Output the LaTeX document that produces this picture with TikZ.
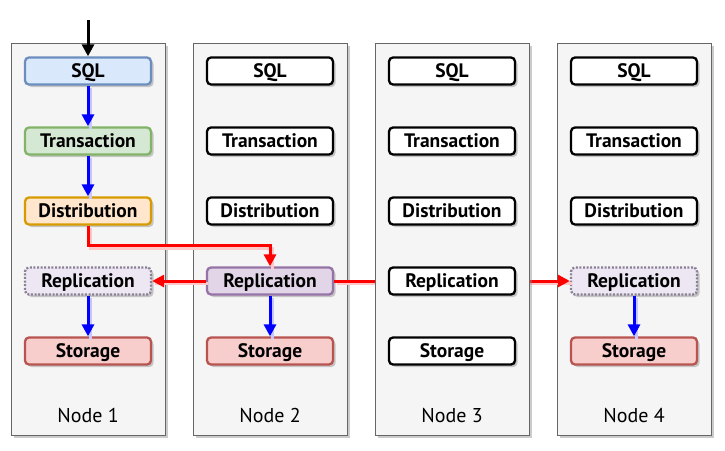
\documentclass[tikz,border=0pt]{standalone}
\usepackage{fontspec}
\setmainfont{PT Sans}
\usetikzlibrary{arrows.meta,shadows}
\definecolor{cfill}{HTML}{F5F5F5}
\definecolor{cline}{HTML}{666666}
\definecolor{sqlf}{HTML}{DAE8FC}\definecolor{sqld}{HTML}{6C8EBF}
\definecolor{trf}{HTML}{D5E8D4}\definecolor{trd}{HTML}{82B366}
\definecolor{dif}{HTML}{FFE6CC}\definecolor{did}{HTML}{D79B00}
\definecolor{ref}{HTML}{E1D5E7}\definecolor{red2}{HTML}{9673A6}
\definecolor{stf}{HTML}{F8CECC}\definecolor{std}{HTML}{B85450}
\definecolor{repl}{HTML}{EDE6F3}\definecolor{dotc}{HTML}{8A7F94}
\begin{document}
\begin{tikzpicture}[x=1pt,y=-1pt,
  shad/.style={drop shadow={shadow xshift=2.5pt,shadow yshift=-2.5pt,fill=black!45,opacity=0.45}},
  container/.style={draw=cline,fill=cfill,line width=1pt,minimum width=154pt,minimum height=392pt,inner sep=0,shad},
  blk/.style={rounded corners=4pt,line width=2.3pt,minimum width=126pt,minimum height=27pt,inner sep=0,
     text height=13.5pt,text depth=0pt,
     font=\bfseries\fontsize{19.5}{22}\selectfont,shad},
  plain/.style={blk,draw=black,fill=white},
  sqlb/.style={blk,draw=sqld,fill=sqlf},
  trb/.style={blk,draw=trd,fill=trf},
  dib/.style={blk,draw=did,fill=dif},
  reb/.style={blk,draw=red2,fill=ref},
  repdot/.style={blk,draw=dotc,fill=repl,dash pattern=on 2pt off 1.6pt,line width=2.3pt},
  stb/.style={blk,draw=std,fill=stf},
  lbl/.style={font=\fontsize{20}{24}\selectfont,inner sep=0,text height=14pt,text depth=0pt},
  flow/.style={draw=blue,line width=3pt,-{Triangle[length=12pt,width=12pt]},
     preaction={draw=blue!22,line width=3pt,-,transform canvas={shift={(2.5pt,-2.5pt)}}}},
  rflow/.style={draw=red,line width=3pt,-{Triangle[length=12pt,width=12pt]},
     preaction={draw=red!22,line width=3pt,-,transform canvas={shift={(2.5pt,-2.5pt)}}}},
  entry/.style={draw=black,line width=3pt,-{Triangle[length=12pt,width=12pt]}}
]
\useasboundingbox (0,0) rectangle (725,450);
% containers 1,2,4
\node[container] (c1) at (88,239) {};
\node[container] (c2) at (270,239) {};
\node[container] (c4) at (634,239) {};
% node 1
\node[sqlb] (sql1) at (88,71) {SQL};
\node[trb] (tr1) at (88,141) {Transaction};
\node[dib] (di1) at (88,211) {Distribution};
\node[repdot] (re1) at (88,281) {Replication};
\node[stb] (st1) at (88,351) {Storage};
\node[lbl] (n1) at (88,415) {Node 1};
% node 2
\node[plain] (sql2) at (270,71) {SQL};
\node[plain] (tr2) at (270,141) {Transaction};
\node[plain] (di2) at (270,211) {Distribution};
\node[reb] (re2) at (270,281) {Replication};
\node[stb] (st2) at (270,351) {Storage};
\node[lbl] (n2) at (270,415) {Node 2};
% node 4
\node[plain] (sql4) at (634,71) {SQL};
\node[plain] (tr4) at (634,141) {Transaction};
\node[plain] (di4) at (634,211) {Distribution};
\node[repdot] (re4) at (634,281) {Replication};
\node[stb] (st4) at (634,351) {Storage};
\node[lbl] (n4) at (634,415) {Node 4};
% connectors
\coordinate (in) at (88,20);
\draw[entry] (in) -- (sql1.north);
\draw[flow] (sql1.south) -- (tr1.north);
\draw[flow] (tr1.south) -- (di1.north);
\draw[flow] (re1.south) -- (st1.north);
\draw[flow] (re2.south) -- (st2.north);
\draw[flow] (re4.south) -- (st4.north);
\draw[rflow] (di1.south) -- ++(0,20) -| (re2.north);
\draw[rflow] (re2.west) -- (re1.east);
\draw[rflow] (re2.east) -- (re4.west);
% container 3 drawn over the passing line
\node[container] (c3) at (452,239) {};
\node[plain] (sql3) at (452,71) {SQL};
\node[plain] (tr3) at (452,141) {Transaction};
\node[plain] (di3) at (452,211) {Distribution};
\node[plain] (re3) at (452,281) {Replication};
\node[plain] (st3) at (452,351) {Storage};
\node[lbl] (n3) at (452,415) {Node 3};
\end{tikzpicture}
\end{document}
